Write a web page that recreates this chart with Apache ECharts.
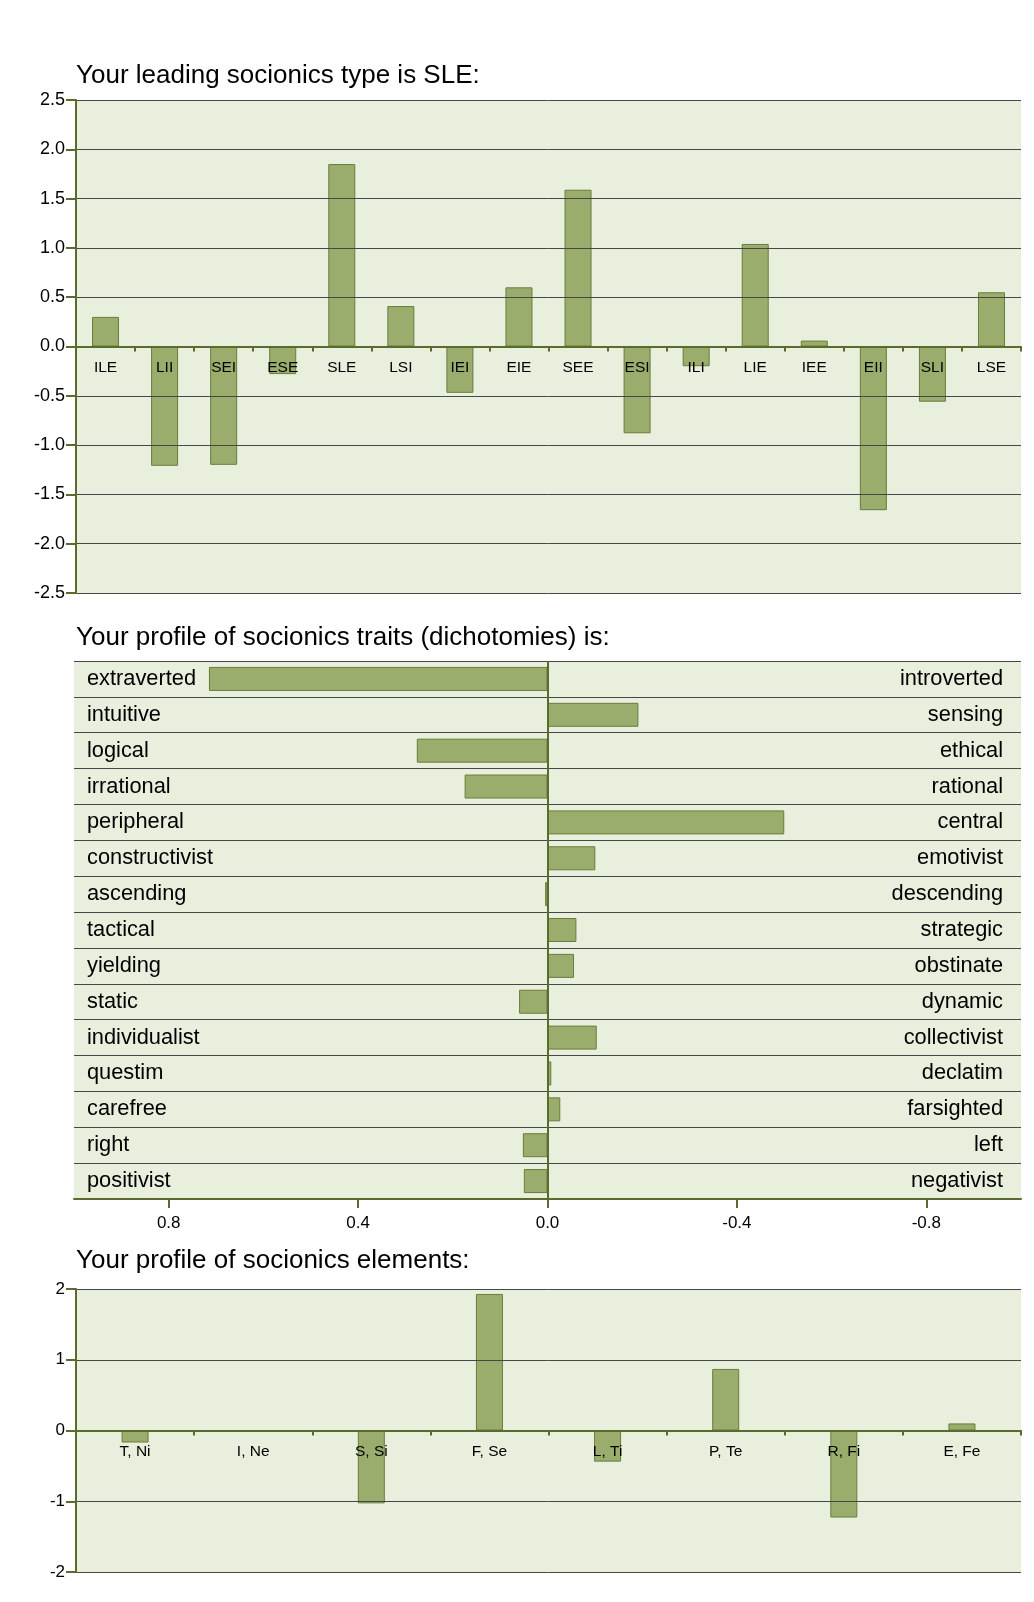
<!DOCTYPE html>
<html>
<head>
<meta charset="utf-8">
<script src="https://cdn.jsdelivr.net/npm/echarts@6/dist/echarts.min.js"></script>
<style>
html,body{margin:0;padding:0;background:#fff;}
#chart{width:1034px;height:1602px;}
</style>
</head>
<body>
<div id="chart"></div>
<script>
// ---- Data ----
const typeCats = ['ILE','LII','SEI','ESE','SLE','LSI','IEI','EIE','SEE','ESI','ILI','LIE','IEE','EII','SLI','LSE'];
const typeVals = [0.30,-1.21,-1.20,-0.28,1.85,0.41,-0.47,0.60,1.59,-0.88,-0.20,1.04,0.06,-1.66,-0.56,0.55];

const traitLeft = ['extraverted','intuitive','logical','irrational','peripheral','constructivist','ascending','tactical','yielding','static','individualist','questim','carefree','right','positivist'];
const traitRight = ['introverted','sensing','ethical','rational','central','emotivist','descending','strategic','obstinate','dynamic','collectivist','declatim','farsighted','left','negativist'];
const traitVals = [0.715,-0.192,0.276,0.175,-0.50,-0.101,0.005,-0.061,-0.056,0.06,-0.104,-0.008,-0.027,0.052,0.05];
const traitTicks = [0.8,0.4,0,-0.4,-0.8];

const elemCats = ['T, Ni','I, Ne','S, Si','F, Se','L, Ti','P, Te','R, Fi','E, Fe'];
const elemVals = [-0.17,-0.02,-1.03,1.93,-0.44,0.87,-1.23,0.10];

const titles = ['Your leading socionics type is SLE:','Your profile of socionics traits (dichotomies) is:','Your profile of socionics elements:'];

// ---- Styles ----
const FONT = "'Liberation Sans', Arial, Helvetica, sans-serif";
const OLIVE = '#5b6b2e';
const FILL = '#9bad6d';
const BORDER = '#6a7c3b';
const BG = '#e9efdd';
const GRIDC = '#474747';

const chart = echarts.init(document.getElementById('chart'), null, {renderer:'canvas'});
const barStyle = {color: FILL, borderColor: BORDER, borderWidth: 1};
const titleStyle = {fontSize: 26, fontWeight: 'normal', color: '#000', fontFamily: FONT};

const option = {
  animation: false,
  backgroundColor: '#ffffff',
  textStyle: {fontFamily: FONT},
  title: [
    {text: titles[0], left: 76, top: 63, padding: 0, textStyle: titleStyle},
    {text: titles[1], left: 76, top: 625, padding: 0, textStyle: titleStyle},
    {text: titles[2], left: 76, top: 1248, padding: 0, textStyle: titleStyle}
  ],
  grid: [
    {left: 76, top: 100, width: 945, height: 493, show: true, backgroundColor: BG, borderWidth: 0},
    {left: 74, top: 661, width: 947, height: 538, show: true, backgroundColor: BG, borderWidth: 0},
    {left: 76, top: 1289, width: 945, height: 283, show: true, backgroundColor: BG, borderWidth: 0}
  ],
  xAxis: [
    {
      gridIndex: 0, type: 'category', data: typeCats, z: 5, position: 'bottom', offset: -246.5,
      axisLine: {onZero: false, lineStyle: {color: OLIVE, width: 2}},
      axisTick: {show: true, length: 5, lineStyle: {color: OLIVE, width: 2}},
      axisLabel: {interval: 0, margin: 13, fontSize: 15.5, color: '#000', fontFamily: FONT},
      splitLine: {show: false}
    },
    {
      gridIndex: 1, type: 'value', min: -1, max: 1, inverse: true,
      axisLine: {show: true, onZero: false, lineStyle: {color: OLIVE, width: 2}},
      axisTick: {show: true, length: 9, customValues: traitTicks, lineStyle: {color: OLIVE, width: 2}},
      axisLabel: {customValues: traitTicks, margin: 16, fontSize: 17, color: '#000', fontFamily: FONT,
        formatter: v => (Math.abs(v) < 1e-9 ? 0 : v).toFixed(1)},
      splitLine: {show: false}
    },
    {
      gridIndex: 2, type: 'category', data: elemCats, z: 5, position: 'bottom', offset: -141.5,
      axisLine: {onZero: false, lineStyle: {color: OLIVE, width: 2}},
      axisTick: {show: true, length: 5, lineStyle: {color: OLIVE, width: 2}},
      axisLabel: {interval: 0, margin: 13.5, fontSize: 15.5, color: '#000', fontFamily: FONT},
      splitLine: {show: false}
    }
  ],
  yAxis: [
    {
      gridIndex: 0, type: 'value', min: -2.5, max: 2.5, interval: 0.5, z: 4,
      axisLine: {show: true, lineStyle: {color: OLIVE, width: 2}},
      axisTick: {show: true, length: 10, lineStyle: {color: OLIVE, width: 2}},
      axisLabel: {margin: 11, fontSize: 18, color: '#000', fontFamily: FONT, formatter: v => v.toFixed(1)},
      splitLine: {show: true, lineStyle: {color: GRIDC, width: 1}}
    },
    {
      gridIndex: 1, type: 'category', data: traitLeft, inverse: true, position: 'left',
      axisLine: {show: false}, axisTick: {show: false},
      axisLabel: {inside: true, margin: 13, fontSize: 21.8, color: '#000', fontFamily: FONT, interval: 0},
      splitLine: {show: true, interval: 0, lineStyle: {color: GRIDC, width: 1}}
    },
    {
      gridIndex: 1, type: 'category', data: traitRight, inverse: true, position: 'right',
      axisLine: {show: false}, axisTick: {show: false},
      axisLabel: {inside: true, margin: 18, fontSize: 21.8, color: '#000', fontFamily: FONT, interval: 0},
      splitLine: {show: false}
    },
    {
      gridIndex: 2, type: 'value', min: -2, max: 2, interval: 1, z: 4,
      axisLine: {show: true, lineStyle: {color: OLIVE, width: 2}},
      axisTick: {show: true, length: 10, lineStyle: {color: OLIVE, width: 2}},
      axisLabel: {margin: 11, fontSize: 17, color: '#000', fontFamily: FONT},
      splitLine: {show: true, lineStyle: {color: GRIDC, width: 1}}
    }
  ],
  series: [
    {type: 'bar', xAxisIndex: 0, yAxisIndex: 0, data: typeVals, barWidth: 27, itemStyle: barStyle},
    {type: 'bar', xAxisIndex: 1, yAxisIndex: 1, data: traitVals, barWidth: 24, itemStyle: barStyle,
      markLine: {silent: true, symbol: 'none', label: {show: false}, z: 6,
        lineStyle: {color: OLIVE, width: 2, type: 'solid'}, data: [{xAxis: 0}]}},
    {type: 'bar', xAxisIndex: 2, yAxisIndex: 3, data: elemVals, barWidth: 27, itemStyle: barStyle}
  ]
};
chart.setOption(option);
</script>
</body>
</html>
